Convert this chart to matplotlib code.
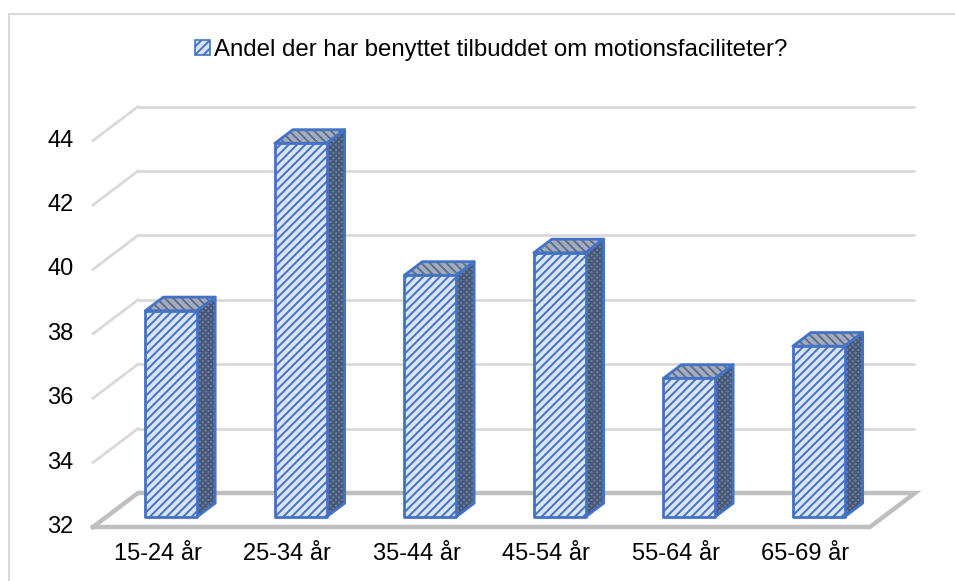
import matplotlib
matplotlib.use("Agg")
import matplotlib.pyplot as plt
from matplotlib.patches import Polygon, Patch, Rectangle
import numpy as np

plt.rcParams['font.family'] = ['Liberation Sans', 'DejaVu Sans']
plt.rcParams['hatch.linewidth'] = 1.4

categories = ["15-24 år", "25-34 år", "35-44 år", "45-54 år", "55-64 år", "65-69 år"]
values = [38.4, 43.6, 39.5, 40.2, 36.3, 37.3]
yticks = [32, 34, 36, 38, 40, 42, 44]
series_name = "Andel der har benyttet tilbuddet om motionsfaciliteter?"

W, H = 955, 581
fig = plt.figure(figsize=(W / 100, H / 100), dpi=100)
ax = fig.add_axes([0, 0, 1, 1])
ax.set_axis_off()

# pixel mapping
px_cat = 129.5
px_unit = 32.2
x0_px = 93
y0_px = 527
ax.set_xlim(-0.5 - x0_px / px_cat, -0.5 + (W - x0_px) / px_cat)
ax.set_ylim(yticks[0] - (H - y0_px) / px_unit, yticks[0] + y0_px / px_unit)

DX = 45 / px_cat     # depth offset in category units
DY = 34 / px_unit    # depth offset in value units
n = len(categories)
xl, xr = -0.5, n - 0.5
base = yticks[0]

grid_col = '#d9d9d9'
floor_col = '#bfbfbf'
FS = 17

# back wall gridlines + left side diagonals
for v in yticks[1:]:
    ax.plot([xl + DX, xr + DX], [v + DY, v + DY], color=grid_col, lw=2, solid_capstyle='butt', zorder=1)
    ax.plot([xl, xl + DX], [v, v + DY], color=grid_col, lw=2, zorder=1)
for v in yticks:
    ax.text(xl - 0.15, v, str(v), ha='right', va='center', fontsize=FS, color='black')

# floor
ax.plot([xl, xr, xr + DX, xl + DX, xl], [base, base, base + DY, base + DY, base],
        color=floor_col, lw=3.2, solid_joinstyle='miter', zorder=1.5)

# category labels
for i, c in enumerate(categories):
    ax.text(i, base - 0.85, c, ha='center', va='center', fontsize=FS, color='black')

# bars
f0, f1 = 0.30, 0.70
hw = 0.20
front_fc = '#dae3f3'
blue = '#4472c4'
side_fc = '#76829a'
side_hc = '#46587a'
top_fc = '#a3adbd'
top_hc = '#5f6f8c'

def face(pts, fc, hc, hatch, z):
    ax.add_patch(Polygon(pts, closed=True, facecolor=fc, edgecolor=hc, hatch=hatch, lw=0, zorder=z))
    ax.add_patch(Polygon(pts, closed=True, fill=False, edgecolor=blue, lw=2, joinstyle='round', zorder=z + 0.1))

for i, v in enumerate(values):
    ox0, oy0 = f0 * DX, f0 * DY
    ox1, oy1 = f1 * DX, f1 * DY
    L, R = i - hw, i + hw
    side = [(R + ox0, base + oy0), (R + ox1, base + oy1), (R + ox1, v + oy1), (R + ox0, v + oy0)]
    face(side, side_fc, side_hc, 'xxxxxx', 3)
    top = [(L + ox0, v + oy0), (R + ox0, v + oy0), (R + ox1, v + oy1), (L + ox1, v + oy1)]
    face(top, top_fc, top_hc, '\\\\\\\\', 3)
    front = [(L + ox0, base + oy0), (R + ox0, base + oy0), (R + ox0, v + oy0), (L + ox0, v + oy0)]
    face(front, front_fc, blue, '////', 4)

# legend / title
handle = Patch(facecolor=front_fc, edgecolor=blue, hatch='////', lw=1.2)
fig.legend([handle], [series_name], loc='center', bbox_to_anchor=(0.5 + 14 / W, 1 - 50 / H),
           frameon=False, fontsize=17.3, handlelength=0.6, handleheight=0.6,
           handletextpad=0.2, borderpad=0)

# chart border
fig.add_artist(Rectangle((8.5 / W, -0.1), 1.2, 1 - 13.5 / H + 0.1, transform=fig.transFigure,
                         fill=False, edgecolor='#d9d9d9', lw=1.5))

fig.savefig('out.png', dpi=100)
